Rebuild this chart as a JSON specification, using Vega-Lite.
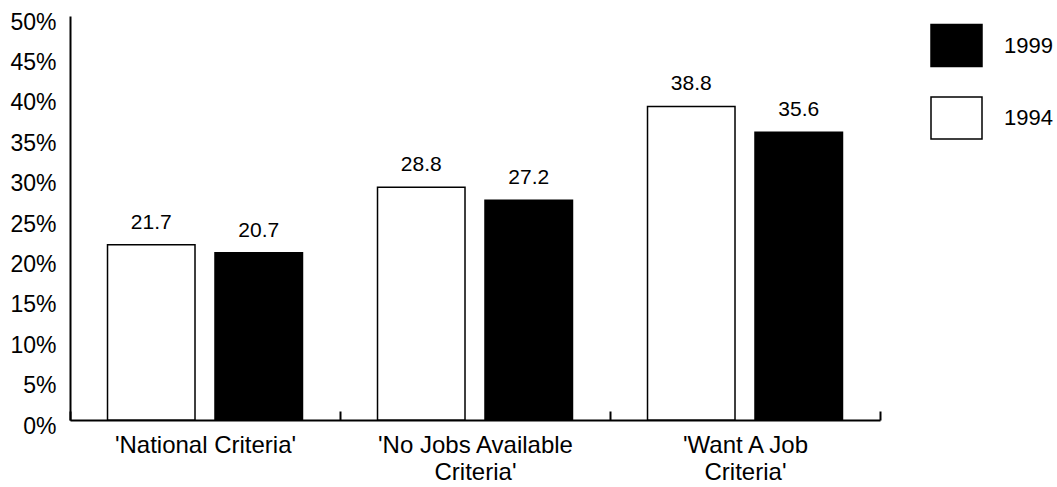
{
  "$schema": "https://vega.github.io/schema/vega-lite/v6.json",
  "autosize": "none",
  "width": 810,
  "height": 404,
  "padding": {"left": 70, "top": 16, "right": 177, "bottom": 67},
  "config": {
    "view": {"stroke": null},
    "font": "Liberation Sans",
    "background": "white"
  },
  "data": {
    "values": [
      {"criteria": "'National Criteria'", "year": "1994", "rate": 21.7},
      {"criteria": "'National Criteria'", "year": "1999", "rate": 20.7},
      {"criteria": "'No Jobs Available Criteria'", "year": "1994", "rate": 28.8},
      {"criteria": "'No Jobs Available Criteria'", "year": "1999", "rate": 27.2},
      {"criteria": "'Want A Job Criteria'", "year": "1994", "rate": 38.8},
      {"criteria": "'Want A Job Criteria'", "year": "1999", "rate": 35.6}
    ]
  },
  "encoding": {
    "x": {
      "field": "criteria",
      "type": "nominal",
      "sort": null,
      "scale": {"paddingInner": 0, "paddingOuter": 0},
      "axis": {
        "title": null,
        "labelAngle": 0,
        "labelFontSize": 24,
        "labelColor": "black",
        "labelPadding": 22,
        "labelLineHeight": 27,
        "labelBaseline": "top",
        "labelLimit": 0,
        "tickBand": "extent",
        "tickSize": -9,
        "tickWidth": 2,
        "tickColor": "black",
        "domainColor": "black",
        "domainWidth": 2,
        "labelExpr": "indexof(datum.label, 'National') >= 0 ? datum.label : [slice(datum.label, 0, lastindexof(datum.label, ' ')), slice(datum.label, lastindexof(datum.label, ' ') + 1)]"
      }
    },
    "xOffset": {
      "field": "year",
      "type": "nominal",
      "sort": ["1994", "1999"],
      "scale": {"paddingInner": 0.186, "paddingOuter": 0.349}
    },
    "y": {
      "field": "rate",
      "type": "quantitative",
      "scale": {"domain": [0, 50], "nice": false},
      "axis": {
        "title": null,
        "values": [0, 5, 10, 15, 20, 25, 30, 35, 40, 45, 50],
        "labelExpr": "datum.value + '%'",
        "labelFontSize": 23,
        "labelColor": "black",
        "labelPadding": 14,
        "labelOffset": 6,
        "ticks": false,
        "grid": false,
        "domainColor": "black",
        "domainWidth": 2
      }
    }
  },
  "layer": [
    {
      "mark": {"type": "bar", "stroke": "black", "strokeWidth": 1.5},
      "encoding": {
        "color": {
          "field": "year",
          "type": "nominal",
          "scale": {"domain": ["1999", "1994"], "range": ["black", "white"]},
          "legend": {
            "title": null,
            "orient": "none",
            "legendX": 860,
            "legendY": 3,
            "symbolType": "M-1,-0.82L1,-0.82L1,0.82L-1,0.82Z",
            "symbolSize": 2601,
            "symbolStrokeColor": "black",
            "symbolStrokeWidth": 1.5,
            "labelFontSize": 22,
            "labelColor": "black",
            "labelOffset": 21,
            "rowPadding": 21.5
          }
        }
      }
    },
    {
      "mark": {"type": "text", "baseline": "alphabetic", "dy": -16, "fontSize": 21, "color": "black"},
      "encoding": {
        "text": {"field": "rate", "type": "quantitative", "format": ".1f"}
      }
    }
  ]
}
